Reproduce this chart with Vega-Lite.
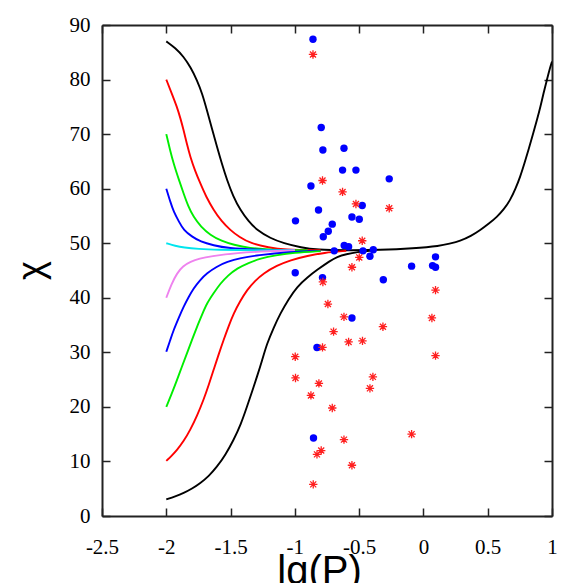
{
  "$schema": "https://vega.github.io/schema/vega-lite/v6.json",
  "autosize": {"type": "none"},
  "padding": {"left": 102, "top": 25, "right": 31, "bottom": 67},
  "width": 450,
  "height": 491,
  "background": "white",
  "config": {
    "view": {"stroke": null},
    "axis": {
      "grid": false,
      "domainColor": "#222222",
      "domainWidth": 2,
      "tickColor": "#222222",
      "tickWidth": 1.5,
      "tickSize": -8,
      "labelFont": "Liberation Serif",
      "labelFontSize": 21,
      "labelColor": "black",
      "titleColor": "black",
      "titleFont": "Liberation Sans",
      "titleFontWeight": "normal"
    }
  },
  "datasets": {
    "curves": [
      {"s": "k1", "x": -2.0, "y": 87.0}, {"s": "k1", "x": -1.93, "y": 85.8}, {"s": "k1", "x": -1.865, "y": 84.2}, {"s": "k1", "x": -1.81, "y": 82.2}, {"s": "k1", "x": -1.761, "y": 79.9}, {"s": "k1", "x": -1.72, "y": 77.4}, {"s": "k1", "x": -1.684, "y": 74.4}, {"s": "k1", "x": -1.645, "y": 71.0}, {"s": "k1", "x": -1.606, "y": 67.7}, {"s": "k1", "x": -1.567, "y": 64.5}, {"s": "k1", "x": -1.528, "y": 61.6}, {"s": "k1", "x": -1.48, "y": 58.6}, {"s": "k1", "x": -1.425, "y": 56.1}, {"s": "k1", "x": -1.36, "y": 54.0}, {"s": "k1", "x": -1.295, "y": 52.4}, {"s": "k1", "x": -1.19, "y": 50.9}, {"s": "k1", "x": -1.088, "y": 50.0}, {"s": "k1", "x": -0.95, "y": 49.2}, {"s": "k1", "x": -0.828, "y": 48.8}, {"s": "k1", "x": -0.6, "y": 48.7}, {"s": "k1", "x": -0.336, "y": 48.75}, {"s": "k1", "x": -0.077, "y": 49.05}, {"s": "k1", "x": 0.131, "y": 49.5}, {"s": "k1", "x": 0.2, "y": 49.9}, {"s": "k1", "x": 0.286, "y": 50.4}, {"s": "k1", "x": 0.37, "y": 51.3}, {"s": "k1", "x": 0.442, "y": 52.4}, {"s": "k1", "x": 0.51, "y": 53.6}, {"s": "k1", "x": 0.571, "y": 54.8}, {"s": "k1", "x": 0.625, "y": 56.2}, {"s": "k1", "x": 0.675, "y": 57.9}, {"s": "k1", "x": 0.715, "y": 59.9}, {"s": "k1", "x": 0.753, "y": 62.2}, {"s": "k1", "x": 0.785, "y": 64.6}, {"s": "k1", "x": 0.817, "y": 67.1}, {"s": "k1", "x": 0.85, "y": 69.8}, {"s": "k1", "x": 0.883, "y": 72.6}, {"s": "k1", "x": 0.91, "y": 75.0}, {"s": "k1", "x": 0.934, "y": 77.5}, {"s": "k1", "x": 0.96, "y": 79.9}, {"s": "k1", "x": 0.986, "y": 82.3}, {"s": "k1", "x": 1.0, "y": 83.3},
      {"s": "r1", "x": -2.0, "y": 80.0}, {"s": "r1", "x": -1.96, "y": 77.6}, {"s": "r1", "x": -1.917, "y": 75.0}, {"s": "r1", "x": -1.89, "y": 72.9}, {"s": "r1", "x": -1.865, "y": 70.7}, {"s": "r1", "x": -1.84, "y": 68.2}, {"s": "r1", "x": -1.813, "y": 65.8}, {"s": "r1", "x": -1.775, "y": 63.2}, {"s": "r1", "x": -1.736, "y": 61.0}, {"s": "r1", "x": -1.69, "y": 58.5}, {"s": "r1", "x": -1.632, "y": 56.1}, {"s": "r1", "x": -1.57, "y": 54.0}, {"s": "r1", "x": -1.502, "y": 52.4}, {"s": "r1", "x": -1.43, "y": 51.1}, {"s": "r1", "x": -1.347, "y": 50.0}, {"s": "r1", "x": -1.2, "y": 49.2}, {"s": "r1", "x": -1.088, "y": 48.8}, {"s": "r1", "x": -0.8, "y": 48.7},
      {"s": "g1", "x": -2.0, "y": 70.0}, {"s": "g1", "x": -1.97, "y": 67.0}, {"s": "g1", "x": -1.943, "y": 64.6}, {"s": "g1", "x": -1.9, "y": 61.5}, {"s": "g1", "x": -1.865, "y": 59.1}, {"s": "g1", "x": -1.83, "y": 56.8}, {"s": "g1", "x": -1.788, "y": 54.8}, {"s": "g1", "x": -1.73, "y": 53.0}, {"s": "g1", "x": -1.658, "y": 51.5}, {"s": "g1", "x": -1.57, "y": 50.4}, {"s": "g1", "x": -1.477, "y": 49.7}, {"s": "g1", "x": -1.35, "y": 49.1}, {"s": "g1", "x": -1.2, "y": 48.8}, {"s": "g1", "x": -0.9, "y": 48.7},
      {"s": "b1", "x": -2.0, "y": 60.0}, {"s": "b1", "x": -1.97, "y": 57.7}, {"s": "b1", "x": -1.943, "y": 55.8}, {"s": "b1", "x": -1.9, "y": 53.9}, {"s": "b1", "x": -1.865, "y": 52.4}, {"s": "b1", "x": -1.8, "y": 51.2}, {"s": "b1", "x": -1.736, "y": 50.3}, {"s": "b1", "x": -1.63, "y": 49.6}, {"s": "b1", "x": -1.528, "y": 49.1}, {"s": "b1", "x": -1.27, "y": 48.8}, {"s": "b1", "x": -1.0, "y": 48.7},
      {"s": "c", "x": -2.0, "y": 50.0}, {"s": "c", "x": -1.93, "y": 49.5}, {"s": "c", "x": -1.865, "y": 49.2}, {"s": "c", "x": -1.75, "y": 48.95}, {"s": "c", "x": -1.606, "y": 48.8}, {"s": "c", "x": -1.3, "y": 48.7}, {"s": "c", "x": -1.0, "y": 48.7},
      {"s": "v", "x": -2.0, "y": 40.0}, {"s": "v", "x": -1.96, "y": 42.5}, {"s": "v", "x": -1.917, "y": 44.5}, {"s": "v", "x": -1.87, "y": 45.8}, {"s": "v", "x": -1.813, "y": 46.6}, {"s": "v", "x": -1.74, "y": 47.2}, {"s": "v", "x": -1.658, "y": 47.6}, {"s": "v", "x": -1.45, "y": 48.25}, {"s": "v", "x": -1.2, "y": 48.55}, {"s": "v", "x": -1.0, "y": 48.7},
      {"s": "b2", "x": -2.0, "y": 30.1}, {"s": "b2", "x": -1.97, "y": 32.2}, {"s": "b2", "x": -1.943, "y": 34.1}, {"s": "b2", "x": -1.9, "y": 36.5}, {"s": "b2", "x": -1.865, "y": 38.4}, {"s": "b2", "x": -1.825, "y": 40.2}, {"s": "b2", "x": -1.788, "y": 41.7}, {"s": "b2", "x": -1.74, "y": 43.2}, {"s": "b2", "x": -1.684, "y": 44.5}, {"s": "b2", "x": -1.61, "y": 45.7}, {"s": "b2", "x": -1.528, "y": 46.6}, {"s": "b2", "x": -1.42, "y": 47.3}, {"s": "b2", "x": -1.295, "y": 47.8}, {"s": "b2", "x": -1.036, "y": 48.4}, {"s": "b2", "x": -0.8, "y": 48.6},
      {"s": "g2", "x": -2.0, "y": 20.0}, {"s": "g2", "x": -1.96, "y": 22.3}, {"s": "g2", "x": -1.917, "y": 24.9}, {"s": "g2", "x": -1.88, "y": 27.3}, {"s": "g2", "x": -1.839, "y": 29.8}, {"s": "g2", "x": -1.8, "y": 32.3}, {"s": "g2", "x": -1.761, "y": 34.7}, {"s": "g2", "x": -1.72, "y": 37.0}, {"s": "g2", "x": -1.684, "y": 39.0}, {"s": "g2", "x": -1.63, "y": 40.9}, {"s": "g2", "x": -1.58, "y": 42.6}, {"s": "g2", "x": -1.52, "y": 44.1}, {"s": "g2", "x": -1.45, "y": 45.4}, {"s": "g2", "x": -1.36, "y": 46.4}, {"s": "g2", "x": -1.269, "y": 47.2}, {"s": "g2", "x": -1.15, "y": 47.8}, {"s": "g2", "x": -1.01, "y": 48.25}, {"s": "g2", "x": -0.8, "y": 48.55},
      {"s": "r2", "x": -2.0, "y": 10.1}, {"s": "r2", "x": -1.96, "y": 11.0}, {"s": "r2", "x": -1.917, "y": 12.1}, {"s": "r2", "x": -1.865, "y": 13.7}, {"s": "r2", "x": -1.813, "y": 15.8}, {"s": "r2", "x": -1.76, "y": 18.4}, {"s": "r2", "x": -1.71, "y": 21.3}, {"s": "r2", "x": -1.67, "y": 24.0}, {"s": "r2", "x": -1.632, "y": 26.8}, {"s": "r2", "x": -1.593, "y": 29.6}, {"s": "r2", "x": -1.554, "y": 32.3}, {"s": "r2", "x": -1.515, "y": 34.8}, {"s": "r2", "x": -1.477, "y": 37.1}, {"s": "r2", "x": -1.425, "y": 39.4}, {"s": "r2", "x": -1.373, "y": 41.4}, {"s": "r2", "x": -1.31, "y": 43.1}, {"s": "r2", "x": -1.243, "y": 44.5}, {"s": "r2", "x": -1.14, "y": 45.9}, {"s": "r2", "x": -1.036, "y": 46.9}, {"s": "r2", "x": -0.9, "y": 47.7}, {"s": "r2", "x": -0.777, "y": 48.25}, {"s": "r2", "x": -0.6, "y": 48.6},
      {"s": "k2", "x": -2.0, "y": 3.06}, {"s": "k2", "x": -1.93, "y": 3.6}, {"s": "k2", "x": -1.865, "y": 4.2}, {"s": "k2", "x": -1.8, "y": 5.0}, {"s": "k2", "x": -1.736, "y": 6.0}, {"s": "k2", "x": -1.67, "y": 7.3}, {"s": "k2", "x": -1.606, "y": 9.0}, {"s": "k2", "x": -1.54, "y": 11.2}, {"s": "k2", "x": -1.477, "y": 13.9}, {"s": "k2", "x": -1.42, "y": 16.8}, {"s": "k2", "x": -1.373, "y": 20.0}, {"s": "k2", "x": -1.333, "y": 22.8}, {"s": "k2", "x": -1.295, "y": 25.5}, {"s": "k2", "x": -1.255, "y": 28.5}, {"s": "k2", "x": -1.217, "y": 31.6}, {"s": "k2", "x": -1.165, "y": 34.5}, {"s": "k2", "x": -1.114, "y": 37.1}, {"s": "k2", "x": -1.05, "y": 39.7}, {"s": "k2", "x": -0.984, "y": 42.0}, {"s": "k2", "x": -0.9, "y": 43.8}, {"s": "k2", "x": -0.828, "y": 45.1}, {"s": "k2", "x": -0.725, "y": 46.8}, {"s": "k2", "x": -0.673, "y": 47.5}, {"s": "k2", "x": -0.6, "y": 48.0}, {"s": "k2", "x": -0.517, "y": 48.4}, {"s": "k2", "x": -0.4, "y": 48.65}
    ],
    "blue": [
      {"x": -0.859, "y": 87.4}, {"x": -0.795, "y": 71.2}, {"x": -0.782, "y": 67.1}, {"x": -0.618, "y": 67.4}, {"x": -0.629, "y": 63.4}, {"x": -0.525, "y": 63.4}, {"x": -0.266, "y": 61.8}, {"x": -0.875, "y": 60.5}, {"x": -0.816, "y": 56.1}, {"x": -0.476, "y": 56.9}, {"x": -0.556, "y": 54.8}, {"x": -0.499, "y": 54.4}, {"x": -0.995, "y": 54.1}, {"x": -0.709, "y": 53.5}, {"x": -0.74, "y": 52.2}, {"x": -0.779, "y": 51.2}, {"x": -0.616, "y": 49.6}, {"x": -0.582, "y": 49.35}, {"x": -0.694, "y": 48.6}, {"x": -0.47, "y": 48.6}, {"x": -0.39, "y": 48.8}, {"x": -0.416, "y": 47.6}, {"x": -0.092, "y": 45.8}, {"x": 0.094, "y": 47.5}, {"x": 0.071, "y": 45.9}, {"x": 0.094, "y": 45.6}, {"x": -0.997, "y": 44.6}, {"x": -0.785, "y": 43.7}, {"x": -0.312, "y": 43.3}, {"x": -0.556, "y": 36.3}, {"x": -0.828, "y": 30.9}, {"x": -0.855, "y": 14.3}
    ],
    "red": [
      {"x": -0.859, "y": 84.6}, {"x": -0.785, "y": 61.5}, {"x": -0.629, "y": 59.4}, {"x": -0.525, "y": 57.2}, {"x": -0.266, "y": 56.4}, {"x": -0.476, "y": 50.45}, {"x": -0.499, "y": 47.4}, {"x": -0.556, "y": 45.6}, {"x": -0.782, "y": 42.9}, {"x": -0.743, "y": 38.85}, {"x": -0.618, "y": 36.5}, {"x": -0.699, "y": 33.8}, {"x": -0.315, "y": 34.7}, {"x": -0.582, "y": 31.9}, {"x": -0.474, "y": 32.1}, {"x": -0.785, "y": 30.9}, {"x": -0.997, "y": 29.2}, {"x": -0.995, "y": 25.3}, {"x": -0.813, "y": 24.3}, {"x": -0.393, "y": 25.5}, {"x": -0.416, "y": 23.4}, {"x": -0.875, "y": 22.1}, {"x": -0.709, "y": 19.8}, {"x": -0.092, "y": 15.0}, {"x": -0.618, "y": 14.0}, {"x": -0.795, "y": 12.0}, {"x": -0.828, "y": 11.3}, {"x": -0.556, "y": 9.3}, {"x": -0.857, "y": 5.8}, {"x": 0.094, "y": 41.4}, {"x": 0.066, "y": 36.3}, {"x": 0.094, "y": 29.4}
    ]
  },
  "resolve": {"axis": {"x": "independent", "y": "independent"}},
  "layer": [
    {
      "data": {"name": "curves"},
      "mark": {"type": "line", "strokeWidth": 1.9, "clip": true, "interpolate": "basis"},
      "encoding": {
        "x": {"field": "x", "type": "quantitative",
          "scale": {"domain": [-2.5, 1], "nice": false, "zero": false},
          "axis": {"orient": "bottom", "values": [-2.5, -2, -1.5, -1, -0.5, 0, 0.5, 1], "tickSize": -8, "labelPadding": 28, "labelFlush": false,
            "labelExpr": "'' + datum.value",
            "title": "lg(P)", "titleFontSize": 40, "titleX": 217, "titleY": 67, "titleBaseline": "alphabetic", "titleAlign": "center"}},
        "y": {"field": "y", "type": "quantitative",
          "scale": {"domain": [0, 90], "nice": false, "zero": false},
          "axis": {"orient": "left", "values": [0, 10, 20, 30, 40, 50, 60, 70, 80, 90], "tickSize": -8, "labelPadding": 20, "labelFlush": false,
            "labelExpr": "'' + datum.value",
            "title": "χ", "titleFontSize": 36, "titleAngle": 270, "titleX": -60, "titleY": 245, "titleBaseline": "alphabetic", "titleAlign": "center"}},
        "color": {"field": "s", "type": "nominal",
          "scale": {"domain": ["k1", "r1", "g1", "b1", "c", "v", "b2", "g2", "r2", "k2"],
            "range": ["#000000", "#ff0000", "#00ee00", "#0000ff", "#00e5ee", "#ee82ee", "#0000ff", "#00ee00", "#ff0000", "#000000"]},
          "legend": null},
        "order": {"field": "x", "type": "quantitative"}
      }
    },
    {
      "data": {"name": "blue"},
      "mark": {"type": "point", "shape": "circle", "filled": true, "color": "#0000ff", "size": 55, "opacity": 1},
      "encoding": {
        "x": {"field": "x", "type": "quantitative",
          "axis": {"orient": "top", "values": [-2.5, -2, -1.5, -1, -0.5, 0, 0.5, 1], "tickSize": -8, "labels": false, "title": null}},
        "y": {"field": "y", "type": "quantitative",
          "axis": {"orient": "right", "values": [0, 10, 20, 30, 40, 50, 60, 70, 80, 90], "tickSize": -8, "labels": false, "title": null}}
      }
    },
    {
      "data": {"name": "red"},
      "mark": {"type": "point", "shape": "M-1,0L1,0M0,-1L0,1M-0.72,-0.72L0.72,0.72M-0.72,0.72L0.72,-0.72", "filled": false, "stroke": "#ff2020", "strokeWidth": 1.3, "size": 70, "opacity": 1},
      "encoding": {
        "x": {"field": "x", "type": "quantitative", "axis": null},
        "y": {"field": "y", "type": "quantitative", "axis": null}
      }
    }
  ]
}
